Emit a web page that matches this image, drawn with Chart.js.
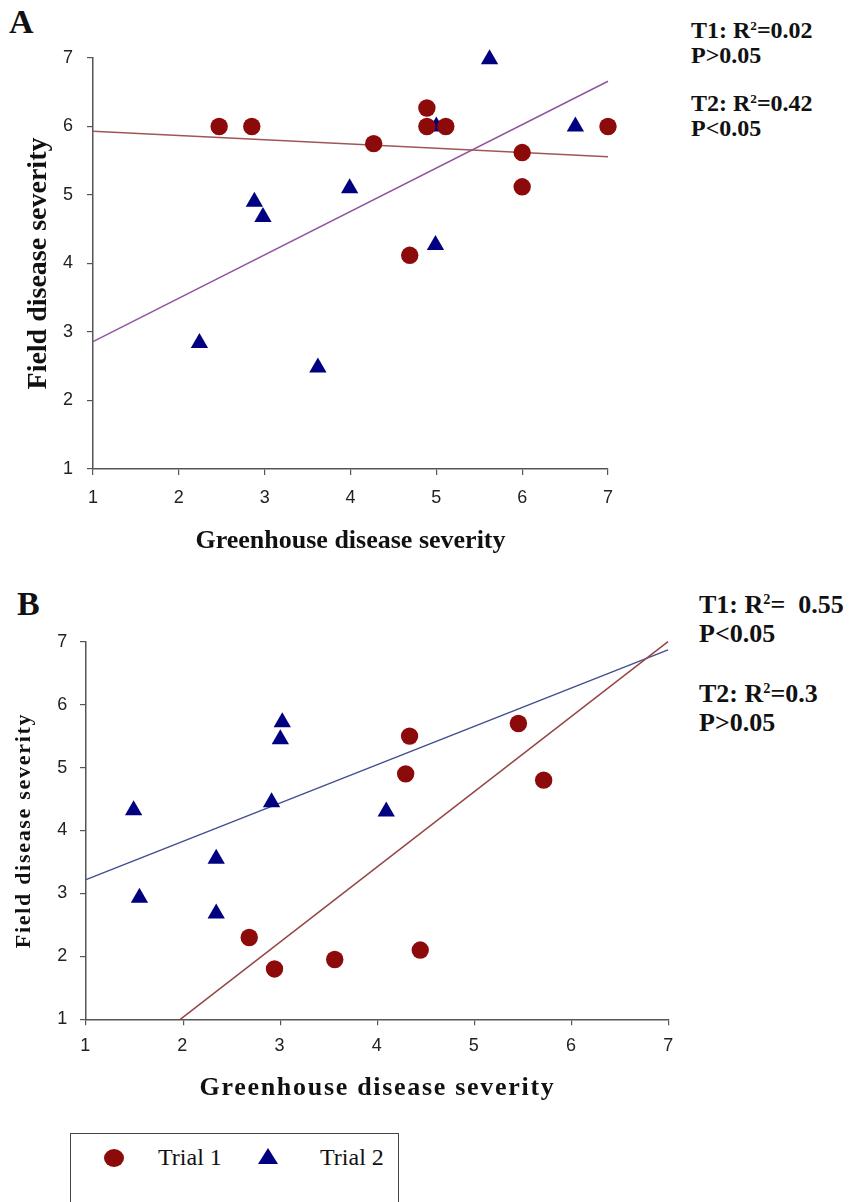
<!DOCTYPE html>
<html>
<head>
<meta charset="utf-8">
<title>Greenhouse vs field disease severity</title>
<script src="https://cdn.jsdelivr.net/npm/chart.js@4.4.1/dist/chart.umd.min.js"></script>
<style>
  html, body { margin: 0; padding: 0; background: #fff; }
  body { width: 855px; height: 1202px; position: relative; overflow: hidden; font-family: 'Liberation Serif', 'Times New Roman', serif; color: #111; }
  canvas { position: absolute; left: 0; }
  #chartA { top: 0; }
  #chartB { top: 580px; }
  .tag { position: absolute; font-weight: bold; font-size: 34px; line-height: 1; }
  .stats { position: absolute; font-weight: bold; white-space: pre; }
  .stats.a { left: 691px; font-size: 24px; line-height: 25px; }
  .stats.b { left: 699px; font-size: 26px; line-height: 29px; }
  .stats sup { font-size: 0.55em; line-height: 0; vertical-align: baseline; position: relative; top: -0.62em; }
  .legend { position: absolute; left: 70px; top: 1133px; width: 327px; height: 100px; border: 1.5px solid #444; }
  .legend .dot { position: absolute; left: 33px; top: 15px; width: 20px; height: 18px; border-radius: 50%; background: #8c0a0a; }
  .legend .tri { position: absolute; left: 187px; top: 14px; width: 0; height: 0; border-left: 10.5px solid transparent; border-right: 10.5px solid transparent; border-bottom: 16px solid #000080; }
  .legend .lab { position: absolute; top: 10px; font-size: 24px; line-height: 1.15; }
</style>
</head>
<body>
<div class="tag" style="left:9px; top:4.5px;">A</div>
<div class="tag" style="left:17px; top:586.5px;">B</div>

<div class="stats a" style="top:18px;">T1: R<sup>2</sup>=0.02
P&gt;0.05</div>
<div class="stats a" style="top:91px;">T2: R<sup>2</sup>=0.42
P&lt;0.05</div>
<div class="stats b" style="top:589.5px;">T1: R<sup>2</sup>=  0.55
P&lt;0.05</div>
<div class="stats b" style="top:678.5px;">T2: R<sup>2</sup>=0.3
P&gt;0.05</div>

<canvas id="chartA" width="855" height="580"></canvas>
<canvas id="chartB" width="855" height="540"></canvas>

<div class="legend">
  <span class="dot"></span><span class="lab" style="left:87px;">Trial 1</span>
  <span class="tri"></span><span class="lab" style="left:249px;">Trial 2</span>
</div>

<script>
// --- values ---
const axisTicks = [1, 2, 3, 4, 5, 6, 7];

// Panel A
const ghA_T1 = [2.47, 2.85, 4.27, 4.69, 4.89, 4.89, 5.11, 6.0, 6.0, 7.0];
const fieldA_T1 = [6.0, 6.0, 5.75, 4.12, 6.27, 6.0, 6.0, 5.62, 5.12, 6.0];
const ghA_T2 = [2.24, 2.88, 2.98, 3.62, 3.99, 4.99, 5.0, 5.62, 6.62];
const fieldA_T2 = [2.84, 4.9, 4.68, 2.48, 5.1, 4.27, 6.0, 6.98, 6.0];
const fitA_T1_x = [1, 7], fitA_T1_y = [5.93, 5.56];
const fitA_T2_x = [1, 7], fitA_T2_y = [2.86, 6.66];

// Panel B
const ghB_T1 = [2.68, 2.94, 3.56, 4.44, 4.29, 4.33, 5.45, 5.71];
const fieldB_T1 = [2.3, 1.8, 1.95, 2.1, 4.9, 5.5, 5.7, 4.8];
const ghB_T2 = [1.49, 1.55, 2.34, 2.34, 2.91, 3.0, 3.02, 4.09];
const fieldB_T2 = [4.32, 2.93, 3.55, 2.68, 4.45, 5.45, 5.72, 4.3];
const fitB_T1_x = [1.97, 6.99], fitB_T1_y = [1.0, 7.0];
const fitB_T2_x = [1, 6.99], fitB_T2_y = [3.22, 6.87];

document.addEventListener('DOMContentLoaded', () => {

    const pts = (xs, ys) => xs.map((x, i) => ({ x: x, y: ys[i] }));
    const serif = "'Liberation Serif', 'Times New Roman', serif";
    const sans = "'Liberation Sans', Arial, sans-serif";
    const red = '#8c0a0a', navy = '#000080';

    // panel B's axis titles are set a bit wider in the original
    const spacing = (px) => ({
        id: 'letterSpacing',
        beforeDraw: (chart) => { chart.ctx.letterSpacing = px + 'px'; }
    });

    const makeChart = (id, cfg) => {
        const scaleBase = {
            type: 'linear', min: 1, max: 7,
            afterBuildTicks: (s) => { s.ticks = axisTicks.map(v => ({ value: v })); },
            grid: { drawOnChartArea: false, drawTicks: true, tickLength: 6, color: '#555', lineWidth: 1.2 },
            border: { color: '#555', width: 1.5 },
        };
        const tickFont = { family: sans, size: 18 };
        return new Chart(document.getElementById(id), {
            data: {
                datasets: [
                    { type: 'scatter', data: pts(cfg.gh1, cfg.f1), pointStyle: 'circle', pointRadius: 8.7, backgroundColor: red, borderColor: red, borderWidth: 0, clip: false },
                    { type: 'scatter', data: pts(cfg.gh2, cfg.f2), pointStyle: 'triangle', pointRadius: 10, backgroundColor: navy, borderColor: navy, borderWidth: 0, clip: false },
                    { type: 'line', data: pts(cfg.fit1x, cfg.fit1y), borderColor: cfg.c1, borderWidth: 1.5, pointRadius: 0, clip: false },
                    { type: 'line', data: pts(cfg.fit2x, cfg.fit2y), borderColor: cfg.c2, borderWidth: 1.5, pointRadius: 0, clip: false }
                ]
            },
            plugins: cfg.spacing ? [spacing(cfg.spacing)] : [],
            options: {
                responsive: false, animation: false, devicePixelRatio: 1,
                layout: { padding: { left: 0, top: cfg.top, right: cfg.right, bottom: 0 } },
                plugins: { legend: { display: false }, tooltip: { enabled: false } },
                scales: {
                    x: Object.assign({}, scaleBase, {
                        position: 'bottom',
                        afterFit: (s) => { s.height = cfg.xh; },
                        ticks: { color: '#222', font: tickFont, padding: cfg.xpad },
                        title: { display: true, text: 'Greenhouse disease severity', color: '#111', font: { family: serif, size: cfg.xts, weight: 'bold' }, padding: { bottom: cfg.xtp } }
                    }),
                    y: Object.assign({}, scaleBase, {
                        position: 'left',
                        afterFit: (s) => { s.width = cfg.yw; },
                        ticks: { color: '#222', font: tickFont, padding: cfg.ypad },
                        title: { display: true, text: 'Field disease severity', color: '#111', font: { family: serif, size: cfg.yts, weight: 'bold' }, padding: { top: cfg.ytp } }
                    })
                }
            }
        });
    };

    // Panel A: plot box 93..608 x 58..469
    makeChart('chartA', {
        gh1: ghA_T1, f1: fieldA_T1, gh2: ghA_T2, f2: fieldA_T2,
        fit1x: fitA_T1_x, fit1y: fitA_T1_y, fit2x: fitA_T2_x, fit2y: fitA_T2_y,
        c1: '#a15656', c2: '#9155a0',
        top: 58, right: 247, xh: 111, yw: 93,
        xpad: 12, ypad: 14, xts: 26, xtp: 23, yts: 28, ytp: 22
    });

    // Panel B: plot box 86..669 x 642..1019 (canvas starts at 580)
    makeChart('chartB', {
        gh1: ghB_T1, f1: fieldB_T1, gh2: ghB_T2, f2: fieldB_T2,
        fit1x: fitB_T1_x, fit1y: fitB_T1_y, fit2x: fitB_T2_x, fit2y: fitB_T2_y,
        c1: '#964646', c2: '#42508f',
        top: 61.7, right: 186, xh: 100.7, yw: 86,
        xpad: 10, ypad: 11, xts: 26, xtp: 16, yts: 22, ytp: 11,
        spacing: 1.7
    });
});
</script>
</body>
</html>
